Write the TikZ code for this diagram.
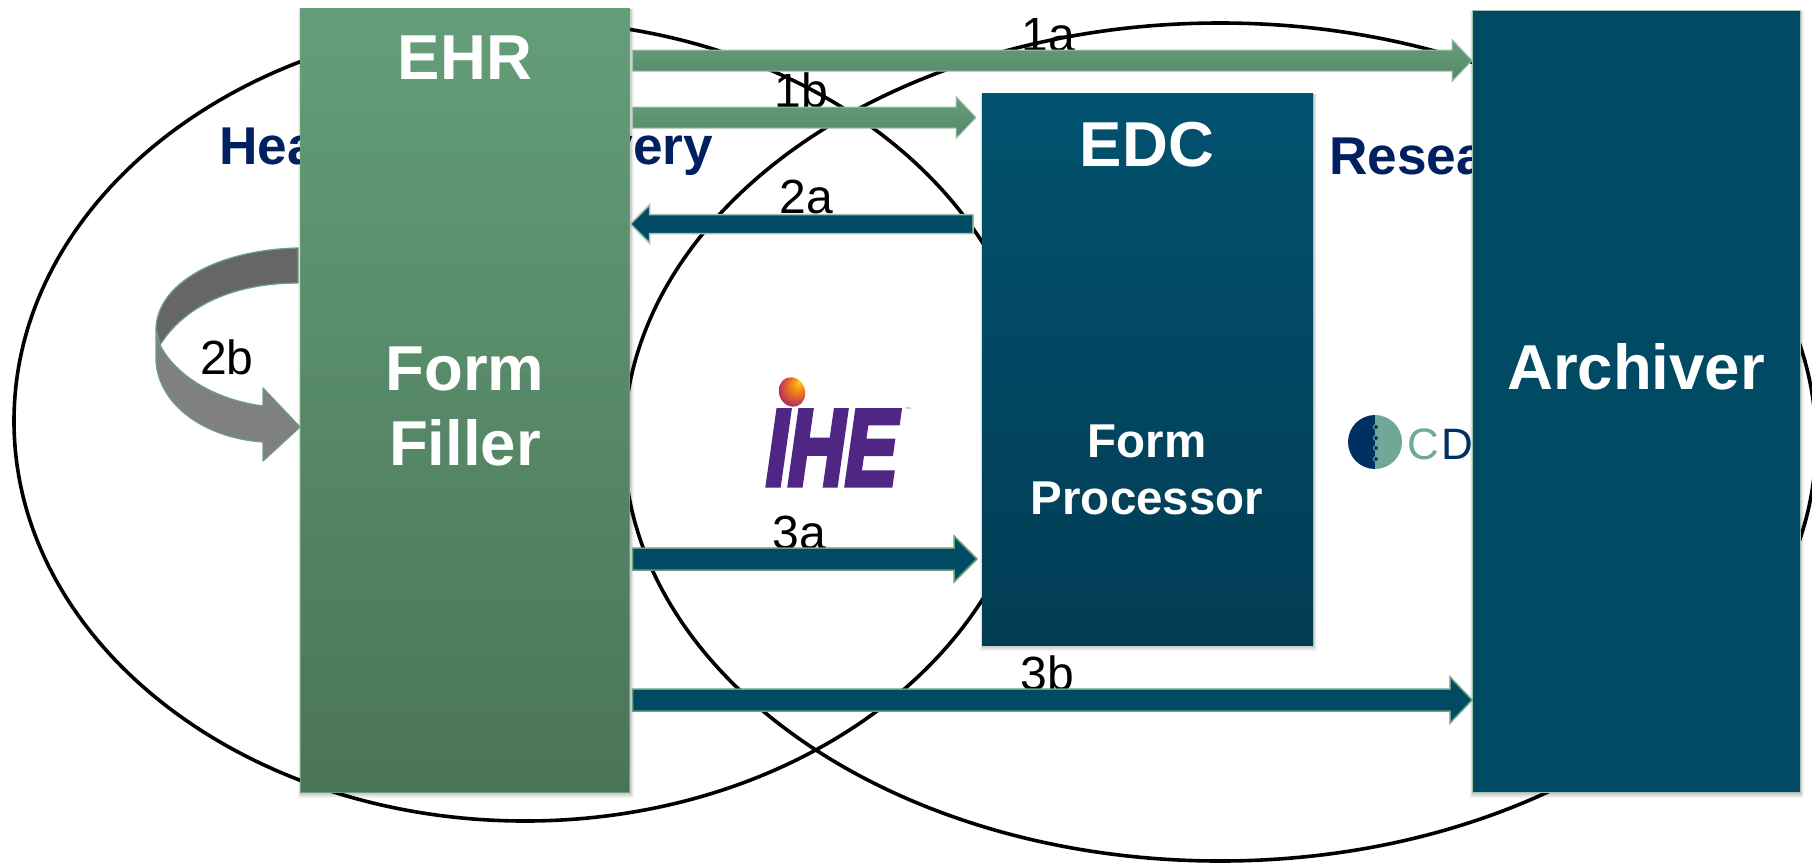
\documentclass[tikz,border=0pt]{standalone}
\usepackage{fontspec}
\setmainfont{Liberation Sans}
\newfontfamily\ihefont[FakeBold=5]{Liberation Sans}
\usetikzlibrary{calc,shapes.geometric}
\definecolor{navytxt}{HTML}{00205F}
\definecolor{ihepurple}{HTML}{4F2683}
\definecolor{cdnavy}{HTML}{002F62}
\definecolor{cdteal}{HTML}{6FA898}
\definecolor{edgegreen}{HTML}{6A9E7C}
\definecolor{edgepale}{HTML}{A3C2AE}
\definecolor{greentop}{HTML}{649E78}
\definecolor{greenbot}{HTML}{4A7458}
\definecolor{edctop}{HTML}{02526F}
\definecolor{edcbot}{HTML}{023C54}
\definecolor{archfill}{HTML}{004B63}
\definecolor{arrtop}{HTML}{659E7A}
\definecolor{arrbot}{HTML}{558968}
\pgfdeclareradialshading{iheball}{\pgfpoint{12bp}{18bp}}{%
  rgb(0bp)=(1,0.8,0.1);rgb(12bp)=(0.95,0.5,0.1);rgb(28bp)=(0.7,0.2,0.35);rgb(50bp)=(0.35,0.15,0.55)}
\newcommand{\softshadow}[4]{%
  \foreach \d in {1,2,3,4,5}{%
    \fill[black,opacity=0.045] ({#1-0.6*\d+1},{#2+1}) rectangle ({#3+0.8*\d},{#4+\d+1});
  }}
\newcommand{\blockarrow}[6]{%
  \path[#1] ($(#2)+(0,-#4)$) -- ($(#3)+({-1*(#6)},-#4)$) -- ($(#3)+({-1*(#6)},-#5)$) -- (#3)
    -- ($(#3)+({-1*(#6)},#5)$) -- ($(#3)+({-1*(#6)},#4)$) -- ($(#2)+(0,#4)$) -- cycle;}
\tikzset{
  regionring/.style={ellipse,draw=black,line width=3.6pt,inner sep=0pt,outer sep=0pt},
  panelbox/.style={rectangle,inner sep=0pt,outer sep=0pt,draw=edgepale,line width=1pt},
  greenpanel/.style={panelbox,draw=edgegreen,line width=0.8pt,top color=greentop,bottom color=greenbot},
  edcpanel/.style={panelbox,draw=none,top color=edctop,bottom color=edcbot},
  archpanel/.style={panelbox,fill=archfill},
  boxtitle/.style={text=white,font=\bfseries\fontsize{63.5}{75}\selectfont,align=center,inner sep=0pt},
  smalllabel/.style={text=black,font=\fontsize{48}{50}\selectfont,inner sep=0pt,anchor=base},
  regionlabel/.style={text=navytxt,font=\bfseries\fontsize{53.2}{60}\selectfont,inner sep=0pt,anchor=base west},
  greenarrow/.style={draw=edgepale,line width=1pt,top color=arrtop,bottom color=arrbot},
  darkarrow/.style={draw=edgegreen,line width=1.5pt,fill=archfill},
  bendup/.style={fill=black!60,draw=edgegreen,line width=1.3pt,line join=round},
  benddown/.style={fill=black!50,draw=edgegreen,line width=1.3pt,line join=round},
}
\begin{document}
\begin{tikzpicture}[x=1pt,y=-1pt]
\useasboundingbox (0,0) rectangle (1812,863);
\clip (0,0) rectangle (1812,863);
\fill[white] (0,0) rectangle (1812,863);

% regions
\node[regionring,minimum width=1022pt,minimum height=800pt] (care) at (525,421) {};
\node[regionring,minimum width=1192pt,minimum height=838pt] (research) at (1220,442) {};

% region captions (partly hidden by the panels)
\node[regionlabel] (carelabel) at (219,164) {Healthcare Delivery};
\node[regionlabel] (reslabel) at (1329,174) {Research};

% IHE logo
\shade[shading=iheball,rotate around={20:(792,392)}] (792,392) ellipse [x radius=13,y radius=15];
\node[inner sep=0pt,anchor=base,text=ihepurple] (ihelogo) at (832,485)
  {\scalebox{0.73}[1]{\ihefont\fontsize{108}{108}\selectfont\bfseries\itshape IHE}};
\node[inner sep=0pt,text=black!45,font=\fontsize{6}{6}\selectfont] (ihetm) at (908,409) {™};

% CDISC logo
\fill[cdnavy] (1375,415) arc [start angle=-90,end angle=-270,x radius=27,y radius=27] -- cycle;
\fill[cdteal] (1375,415) arc [start angle=-90,end angle=90,x radius=27,y radius=27] -- cycle;
\foreach \yy in {427,438,448,459}{\draw[cdteal,fill=cdnavy,line width=1pt] (1376,\yy) circle [radius=2.5];}
\node[inner sep=0pt,anchor=base west,font=\fontsize{44}{46}\selectfont] (cdtext) at (1407,459)
  {\textcolor{cdteal}{C}\hspace{3pt}\textcolor{cdnavy}{D}};

% small labels under the arrows
\node[smalllabel] (l1a) at (1048,51) {1a};
\node[smalllabel] (l1b) at (801,107) {1b};
\node[smalllabel] (l2a) at (806,213) {2a};
\node[smalllabel] (l3a) at (799,549) {3a};
\node[smalllabel] (l3b) at (1047,690) {3b};

% panels
\softshadow{300}{8}{630}{792}
\softshadow{982}{93}{1313}{645}
\softshadow{1472}{10}{1800}{792}
\node[greenpanel,minimum width=329pt,minimum height=784pt] (ehr) at (465,400) {};
\node[edcpanel,minimum width=331pt,minimum height=552pt] (edc) at (1147.5,369) {};
\node[archpanel,minimum width=328pt,minimum height=782pt] (archiver) at (1636,401) {};

% panel titles
\node[boxtitle] (ehrt) at (465,58) {EHR};
\node[boxtitle,text width=300pt] (fill) at (465,406.5) {Form\\Filler};
\node[boxtitle] (edct) at (1147,145) {EDC};
\node[boxtitle,font=\bfseries\fontsize{47.5}{57}\selectfont,text width=300pt] (proc) at (1147,470) {Form\\Processor};
\node[boxtitle] (archt) at (1636,367) {Archiver};

% connector ends
\coordinate (s1a) at ($(ehr.east |- 0,60.5)+(3,0)$);
\coordinate (t1a) at (archiver.west |- s1a);
\coordinate (s1b) at ($(ehr.east |- 0,117.5)+(3,0)$);
\coordinate (t1b) at ($(edc.west |- s1b)+(-6,0)$);
\coordinate (s2a) at ($(edc.west |- 0,224)+(-9,0)$);
\coordinate (t2a) at ($(ehr.east |- s2a)+(1,0)$);
\coordinate (s3a) at ($(ehr.east |- 0,559)+(3,0)$);
\coordinate (t3a) at ($(edc.west |- s3a)+(-5,0)$);
\coordinate (s3b) at ($(ehr.east |- 0,700)+(3,0)$);
\coordinate (t3b) at (archiver.west |- s3b);

% block arrows
\blockarrow{greenarrow}{s1a}{t1a}{10.5}{21}{20}
\blockarrow{greenarrow}{s1b}{t1b}{10.5}{21}{20}
\blockarrow{darkarrow,draw=edgepale}{s2a}{t2a}{9.5}{19}{-19}
\blockarrow{darkarrow}{s3a}{t3a}{11}{23}{23}
\blockarrow{darkarrow}{s3b}{t3b}{11}{23}{22}

% loop arrow 2b
\path[bendup] (298,248) .. controls (215,250) and (156,285) .. (156,330) -- (160,345)
  .. controls (185,305) and (235,283) .. (298,283) -- cycle;
\path[benddown] (156,330) -- (156,360) .. controls (158,405) and (205,438) .. (263,442)
  -- (263,461) -- (300,427) -- (263,388) -- (263,406)
  .. controls (215,400) and (175,375) .. (160,345) -- cycle;
\node[smalllabel] (l2b) at (227,374) {2b};
\end{tikzpicture}
\end{document}
